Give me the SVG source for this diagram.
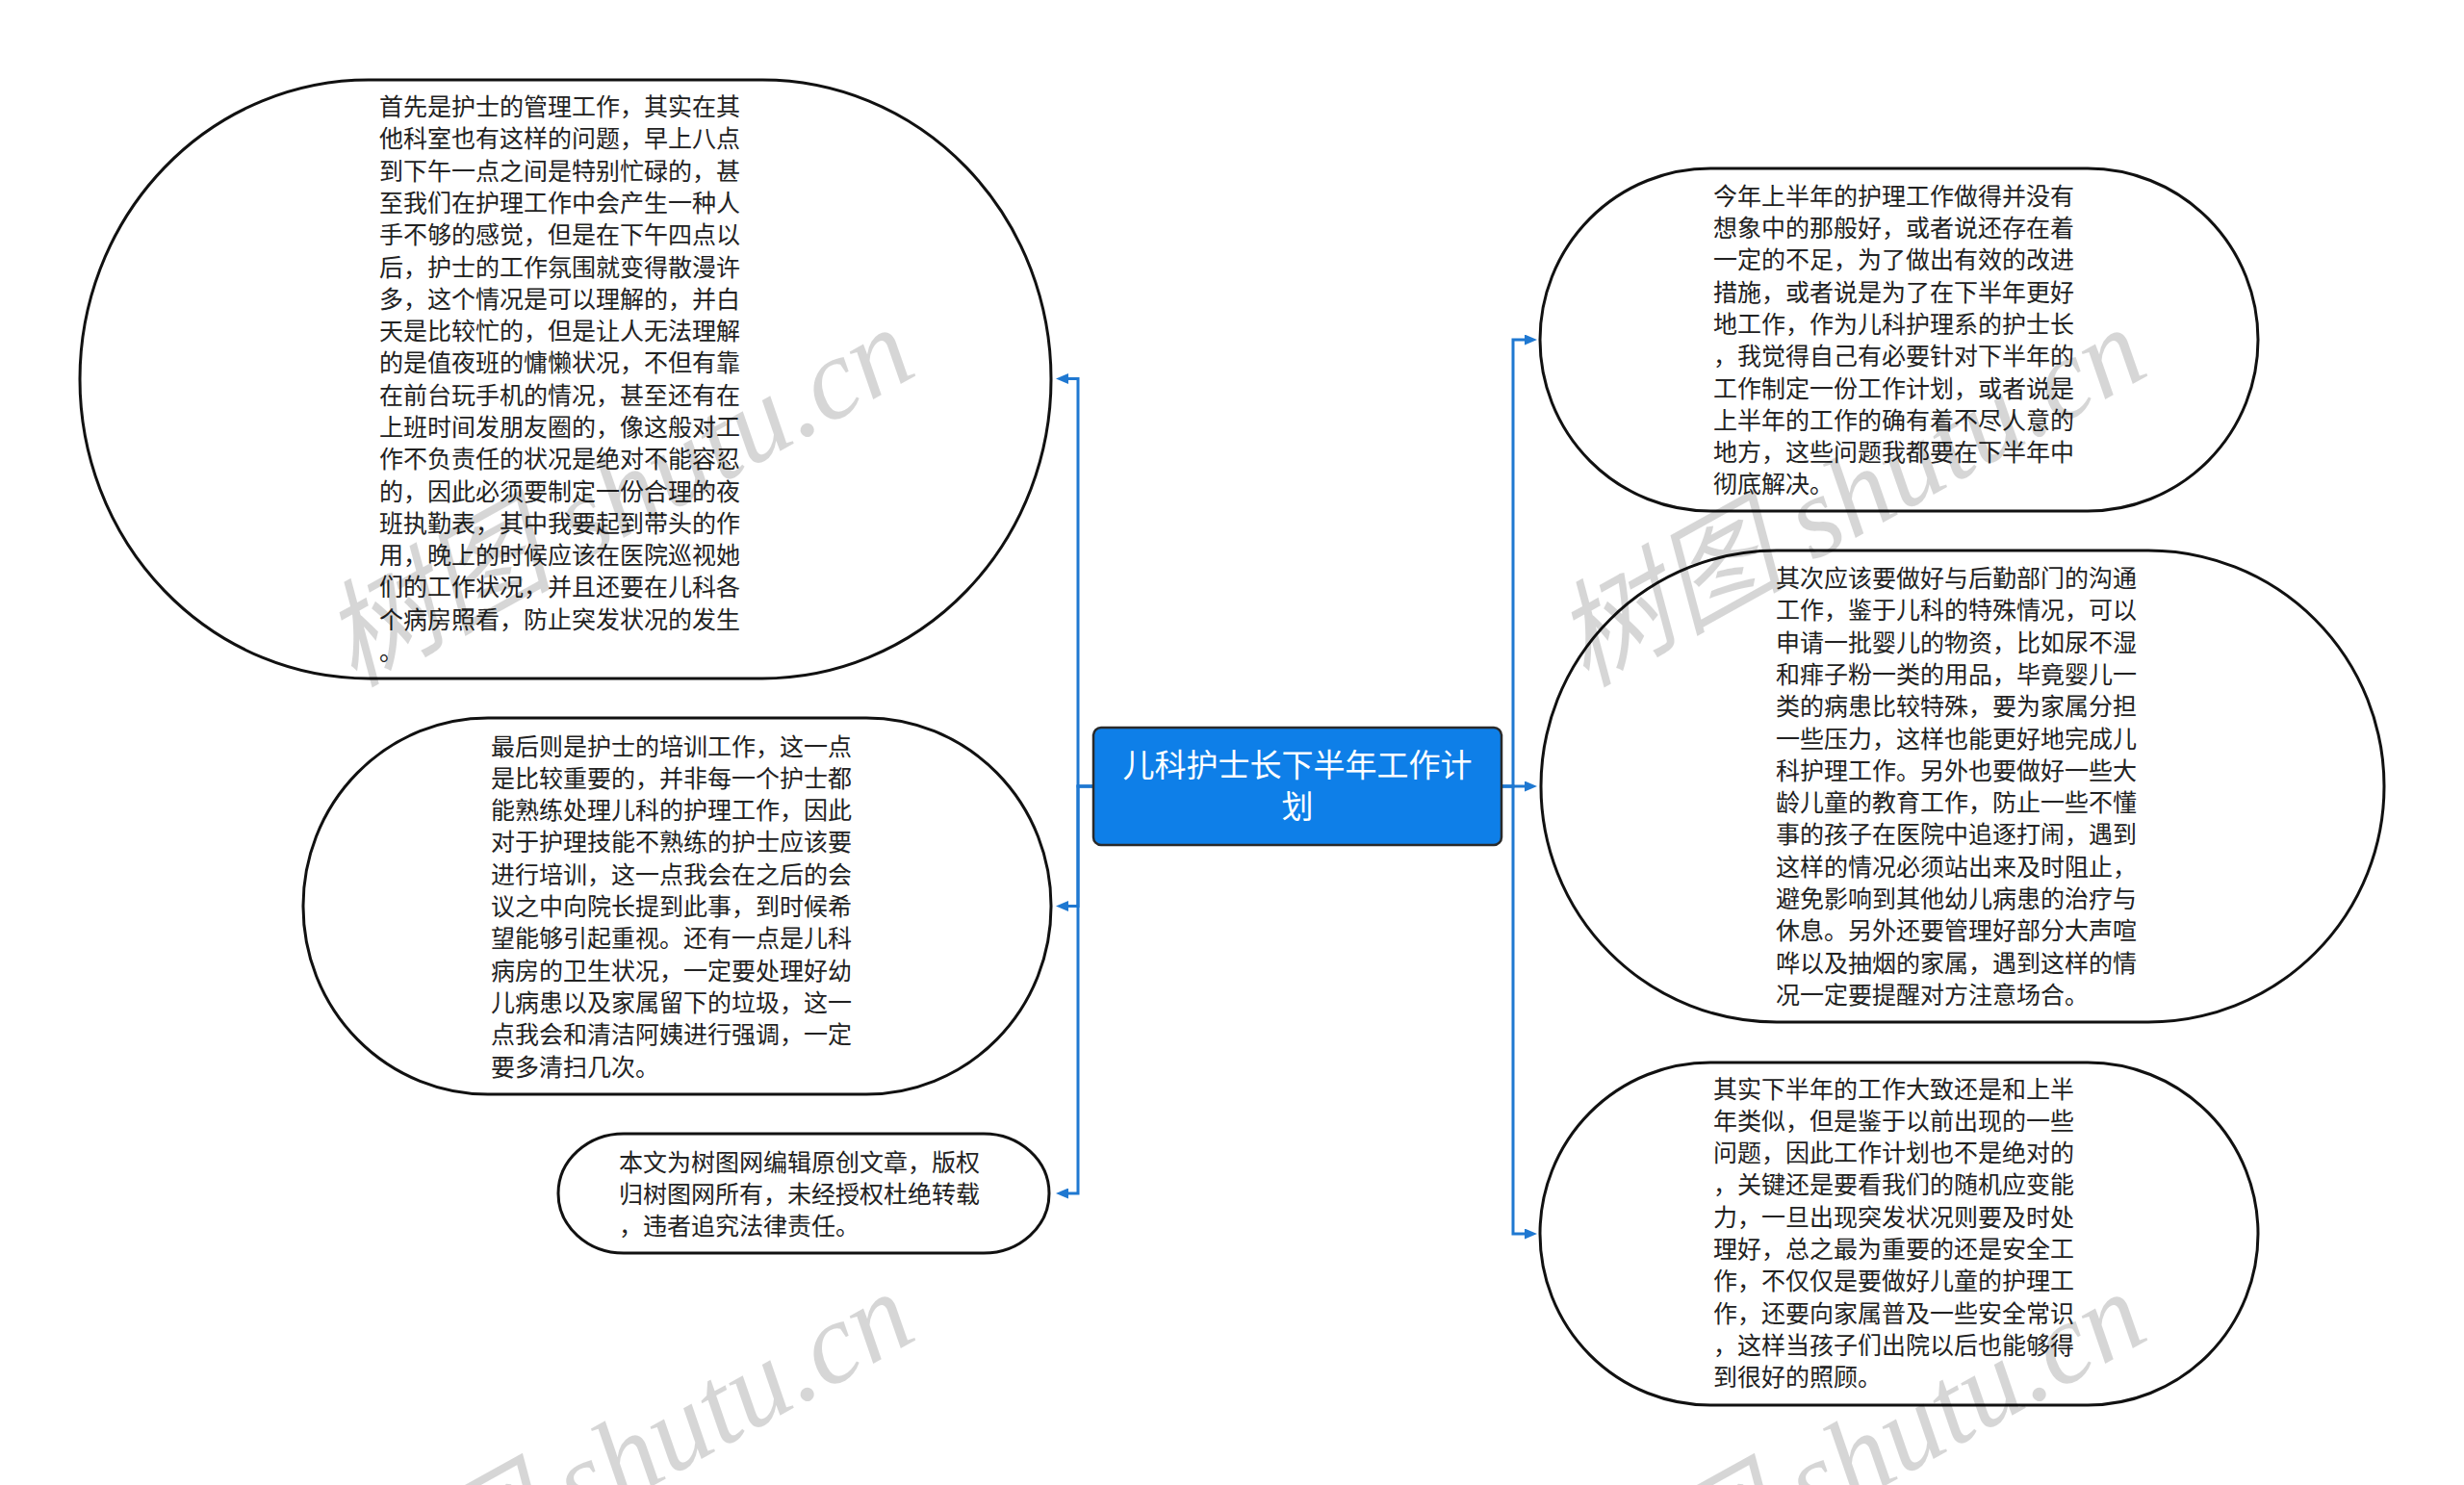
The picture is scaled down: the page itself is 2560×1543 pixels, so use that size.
<svg xmlns="http://www.w3.org/2000/svg" width="2560" height="1543" viewBox="0 0 2560 1543">
<defs>
<style>
.bubble{fill:#ffffff;stroke:#111111;stroke-width:3}
.txt{font-family:"Noto Sans CJK SC","Noto Sans",sans-serif;font-size:25px;fill:#222222}
.title{font-family:"Noto Sans CJK SC","Noto Sans",sans-serif;font-size:33px;fill:#ffffff;text-anchor:middle}
.conn{fill:none;stroke:#1f78d1;stroke-width:3}
.wm{font-family:"Liberation Serif","Noto Sans CJK SC",serif;font-style:italic;font-size:120px;fill:#000000;fill-opacity:0.16}
</style>
<marker id="arr" markerUnits="userSpaceOnUse" markerWidth="13" markerHeight="11" refX="0" refY="5.5" orient="auto">
<path d="M0,0 L13,5.5 L0,11 z" fill="#1f78d1"/>
</marker>
</defs>
<rect width="2560" height="1543" fill="#ffffff"/>
<g id="connectors">
<path class="conn" d="M1136 817 H1120 V393.5 H1110" marker-end="url(#arr)"/>
<path class="conn" d="M1136 817 H1120 V941.5 H1110" marker-end="url(#arr)"/>
<path class="conn" d="M1136 817 H1120 V1240 H1110" marker-end="url(#arr)"/>
<path class="conn" d="M1560 817 H1572 V353 H1584" marker-end="url(#arr)"/>
<path class="conn" d="M1560 817 H1584" marker-end="url(#arr)"/>
<path class="conn" d="M1560 817 H1572 V1282 H1584" marker-end="url(#arr)"/>
</g>
<g id="center">
<rect x="1136" y="756" width="424" height="122" rx="8" ry="8" fill="#0e7fe8" stroke="#2a2a2a" stroke-width="2.5"/>
<text class="title"><tspan x="1348" y="807">儿科护士长下半年工作计</tspan><tspan x="1348" y="850">划</tspan></text>
</g>
<g id="node-l1">
<rect class="bubble" x="83" y="83" width="1009" height="622" rx="300" ry="311"/>
<text class="txt"><tspan x="394" y="120">首先是护士的管理工作，其实在其</tspan><tspan x="394" dy="33.3">他科室也有这样的问题，早上八点</tspan><tspan x="394" dy="33.3">到下午一点之间是特别忙碌的，甚</tspan><tspan x="394" dy="33.3">至我们在护理工作中会产生一种人</tspan><tspan x="394" dy="33.3">手不够的感觉，但是在下午四点以</tspan><tspan x="394" dy="33.3">后，护士的工作氛围就变得散漫许</tspan><tspan x="394" dy="33.3">多，这个情况是可以理解的，并白</tspan><tspan x="394" dy="33.3">天是比较忙的，但是让人无法理解</tspan><tspan x="394" dy="33.3">的是值夜班的慵懒状况，不但有靠</tspan><tspan x="394" dy="33.3">在前台玩手机的情况，甚至还有在</tspan><tspan x="394" dy="33.3">上班时间发朋友圈的，像这般对工</tspan><tspan x="394" dy="33.3">作不负责任的状况是绝对不能容忍</tspan><tspan x="394" dy="33.3">的，因此必须要制定一份合理的夜</tspan><tspan x="394" dy="33.3">班执勤表，其中我要起到带头的作</tspan><tspan x="394" dy="33.3">用，晚上的时候应该在医院巡视她</tspan><tspan x="394" dy="33.3">们的工作状况，并且还要在儿科各</tspan><tspan x="394" dy="33.3">个病房照看，防止突发状况的发生</tspan><tspan x="394" dy="33.3">。</tspan></text>
</g>
<g id="node-l2">
<rect class="bubble" x="315" y="746" width="777" height="391" rx="192" ry="195"/>
<text class="txt"><tspan x="510" y="784.5">最后则是护士的培训工作，这一点</tspan><tspan x="510" dy="33.3">是比较重要的，并非每一个护士都</tspan><tspan x="510" dy="33.3">能熟练处理儿科的护理工作，因此</tspan><tspan x="510" dy="33.3">对于护理技能不熟练的护士应该要</tspan><tspan x="510" dy="33.3">进行培训，这一点我会在之后的会</tspan><tspan x="510" dy="33.3">议之中向院长提到此事，到时候希</tspan><tspan x="510" dy="33.3">望能够引起重视。还有一点是儿科</tspan><tspan x="510" dy="33.3">病房的卫生状况，一定要处理好幼</tspan><tspan x="510" dy="33.3">儿病患以及家属留下的垃圾，这一</tspan><tspan x="510" dy="33.3">点我会和清洁阿姨进行强调，一定</tspan><tspan x="510" dy="33.3">要多清扫几次。</tspan></text>
</g>
<g id="node-l3">
<rect class="bubble" x="580" y="1178" width="510" height="124" rx="68" ry="62"/>
<text class="txt"><tspan x="643" y="1216.5">本文为树图网编辑原创文章，版权</tspan><tspan x="643" dy="33.3">归树图网所有，未经授权杜绝转载</tspan><tspan x="643" dy="33.3">，违者追究法律责任。</tspan></text>
</g>
<g id="node-r1">
<rect class="bubble" x="1600" y="175" width="746" height="356" rx="177" ry="178"/>
<text class="txt"><tspan x="1780" y="212.7">今年上半年的护理工作做得并没有</tspan><tspan x="1780" dy="33.3">想象中的那般好，或者说还存在着</tspan><tspan x="1780" dy="33.3">一定的不足，为了做出有效的改进</tspan><tspan x="1780" dy="33.3">措施，或者说是为了在下半年更好</tspan><tspan x="1780" dy="33.3">地工作，作为儿科护理系的护士长</tspan><tspan x="1780" dy="33.3">，我觉得自己有必要针对下半年的</tspan><tspan x="1780" dy="33.3">工作制定一份工作计划，或者说是</tspan><tspan x="1780" dy="33.3">上半年的工作的确有着不尽人意的</tspan><tspan x="1780" dy="33.3">地方，这些问题我都要在下半年中</tspan><tspan x="1780" dy="33.3">彻底解决。</tspan></text>
</g>
<g id="node-r2">
<rect class="bubble" x="1601" y="572" width="876" height="490" rx="245" ry="245"/>
<text class="txt"><tspan x="1845" y="610">其次应该要做好与后勤部门的沟通</tspan><tspan x="1845" dy="33.3">工作，鉴于儿科的特殊情况，可以</tspan><tspan x="1845" dy="33.3">申请一批婴儿的物资，比如尿不湿</tspan><tspan x="1845" dy="33.3">和痱子粉一类的用品，毕竟婴儿一</tspan><tspan x="1845" dy="33.3">类的病患比较特殊，要为家属分担</tspan><tspan x="1845" dy="33.3">一些压力，这样也能更好地完成儿</tspan><tspan x="1845" dy="33.3">科护理工作。另外也要做好一些大</tspan><tspan x="1845" dy="33.3">龄儿童的教育工作，防止一些不懂</tspan><tspan x="1845" dy="33.3">事的孩子在医院中追逐打闹，遇到</tspan><tspan x="1845" dy="33.3">这样的情况必须站出来及时阻止，</tspan><tspan x="1845" dy="33.3">避免影响到其他幼儿病患的治疗与</tspan><tspan x="1845" dy="33.3">休息。另外还要管理好部分大声喧</tspan><tspan x="1845" dy="33.3">哗以及抽烟的家属，遇到这样的情</tspan><tspan x="1845" dy="33.3">况一定要提醒对方注意场合。</tspan></text>
</g>
<g id="node-r3">
<rect class="bubble" x="1600" y="1104" width="746" height="356" rx="177" ry="178"/>
<text class="txt"><tspan x="1780" y="1140.5">其实下半年的工作大致还是和上半</tspan><tspan x="1780" dy="33.3">年类似，但是鉴于以前出现的一些</tspan><tspan x="1780" dy="33.3">问题，因此工作计划也不是绝对的</tspan><tspan x="1780" dy="33.3">，关键还是要看我们的随机应变能</tspan><tspan x="1780" dy="33.3">力，一旦出现突发状况则要及时处</tspan><tspan x="1780" dy="33.3">理好，总之最为重要的还是安全工</tspan><tspan x="1780" dy="33.3">作，不仅仅是要做好儿童的护理工</tspan><tspan x="1780" dy="33.3">作，还要向家属普及一些安全常识</tspan><tspan x="1780" dy="33.3">，这样当孩子们出院以后也能够得</tspan><tspan x="1780" dy="33.3">到很好的照顾。</tspan></text>
</g>
<g id="watermarks">
<text class="wm" x="956" y="388" text-anchor="end" transform="rotate(-29 956 388)">树图 shutu.cn</text>
<text class="wm" x="2236" y="388" text-anchor="end" transform="rotate(-29 2236 388)">树图 shutu.cn</text>
<text class="wm" x="956" y="1390" text-anchor="end" transform="rotate(-29 956 1390)">树图 shutu.cn</text>
<text class="wm" x="2236" y="1390" text-anchor="end" transform="rotate(-29 2236 1390)">树图 shutu.cn</text>
</g>
</svg>
